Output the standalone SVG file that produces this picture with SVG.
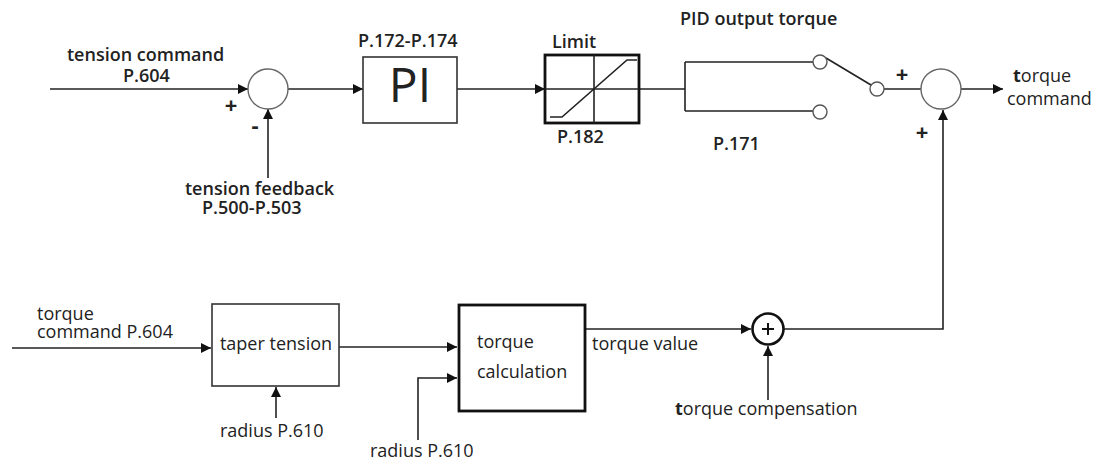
<svg xmlns="http://www.w3.org/2000/svg" width="1095" height="464" viewBox="0 0 1095 464">
<style>
text{font-family:"Open Sans","Noto Sans","Liberation Sans",sans-serif;font-size:18px;fill:#222}
.sb{font-weight:600}
.big{font-size:48px;font-weight:400}
.sign{font-size:22px;font-weight:700}
.ln{fill:none;stroke:#222;stroke-width:1.6}
.box{fill:#fff;stroke:#333;stroke-width:1.6}
.tbox{fill:#fff;stroke:#111;stroke-width:2.8}
.sum{fill:#fff;stroke:#666;stroke-width:1.4}
.sw{fill:#fff;stroke:#555;stroke-width:1.4}
</style>
<defs>
<marker id="arr" viewBox="0 0 10 10" refX="10" refY="5" markerWidth="11" markerHeight="10" markerUnits="userSpaceOnUse" orient="auto"><path d="M0,0 L10,5 L0,10 z" fill="#111"/></marker>
</defs>
<rect width="1095" height="464" fill="#fff"/>
<g id="connectors">
<path class="ln" d="M50,89 H248" marker-end="url(#arr)"/>
<path class="ln" d="M268,178 V109" marker-end="url(#arr)"/>
<path class="ln" d="M288,89 H363" marker-end="url(#arr)"/>
<path class="ln" d="M457,89 H545" marker-end="url(#arr)"/>
<path class="ln" d="M639,89 H685 M685,62 V111 M685,62 H813 M685,111 H813"/>
<path class="ln" d="M826,58 L871,85"/>
<path class="ln" d="M884,89 H921"/>
<path class="ln" d="M961,89 H1003" marker-end="url(#arr)"/>
<path class="ln" d="M12,348 H211" marker-end="url(#arr)"/>
<path class="ln" d="M276,418 V387" marker-end="url(#arr)"/>
<path class="ln" d="M339,347 H457" marker-end="url(#arr)"/>
<path class="ln" d="M418,440 V378 H457" marker-end="url(#arr)"/>
<path class="ln" d="M585,329 H751" marker-end="url(#arr)"/>
<path class="ln" d="M768,400 V346" marker-end="url(#arr)"/>
<path class="ln" d="M784,329 H943 V110" marker-end="url(#arr)"/>
</g>
<g id="input-tension">
<text class="sb" x="67" y="61">tension command</text>
<text class="sb" x="123" y="82">P.604</text>
</g>
<g id="sum1">
<circle class="sum" cx="268" cy="89" r="20"/>
<text class="sign" x="231" y="113" text-anchor="middle">+</text>
<text class="sign" x="255" y="133" text-anchor="middle">-</text>
</g>
<g id="feedback">
<text class="sb" x="185" y="195">tension feedback</text>
<text class="sb" x="202" y="214">P.500-P.503</text>
</g>
<g id="pi">
<rect class="box" x="363" y="57" width="94" height="66"/>
<text class="big" x="410" y="102" text-anchor="middle">PI</text>
<text class="sb" x="358" y="47">P.172-P.174</text>
</g>
<g id="limit">
<rect class="tbox" x="545" y="55" width="94" height="68"/>
<path class="ln" d="M594,55 V123 M545,89 H639"/>
<path class="ln" d="M550,117 H562 L627,60 H637"/>
<text class="sb" x="552" y="48">Limit</text>
<text class="sb" x="557" y="143">P.182</text>
</g>
<g id="switch">
<circle class="sw" cx="820" cy="62" r="7"/>
<circle class="sw" cx="820" cy="112" r="7"/>
<circle class="sw" cx="877" cy="89" r="7"/>
<text class="sb" x="680" y="25">PID output torque</text>
<text class="sb" x="713" y="150">P.171</text>
</g>
<g id="sum2">
<circle class="sum" cx="941" cy="89" r="20"/>
<text class="sign" x="902" y="82" text-anchor="middle">+</text>
<text class="sign" x="922" y="140" text-anchor="middle">+</text>
</g>
<g id="output">
<text x="1013" y="82"><tspan font-weight="bold">t</tspan>orque</text>
<text x="1007" y="105">command</text>
</g>
<g id="input-torque">
<text x="37" y="320">torque</text>
<text x="37" y="338">command P.604</text>
</g>
<g id="taper">
<rect class="box" x="212" y="304" width="127" height="82"/>
<text x="276" y="350" text-anchor="middle">taper tension</text>
<text x="220" y="437">radius P.610</text>
</g>
<g id="calc">
<rect class="tbox" x="459" y="305" width="126" height="106"/>
<text x="477" y="348">torque</text>
<text x="477" y="378">calculation</text>
<text x="370" y="457">radius P.610</text>
</g>
<g id="sum3">
<circle cx="768" cy="329" r="15.5" fill="#fff" stroke="#111" stroke-width="2.6"/>
<path d="M762,329 H774 M768,323 V335" stroke="#111" stroke-width="2"/>
<text x="592" y="350">torque value</text>
<text x="675" y="415"><tspan font-weight="bold">t</tspan>orque compensation</text>
</g>
</svg>
